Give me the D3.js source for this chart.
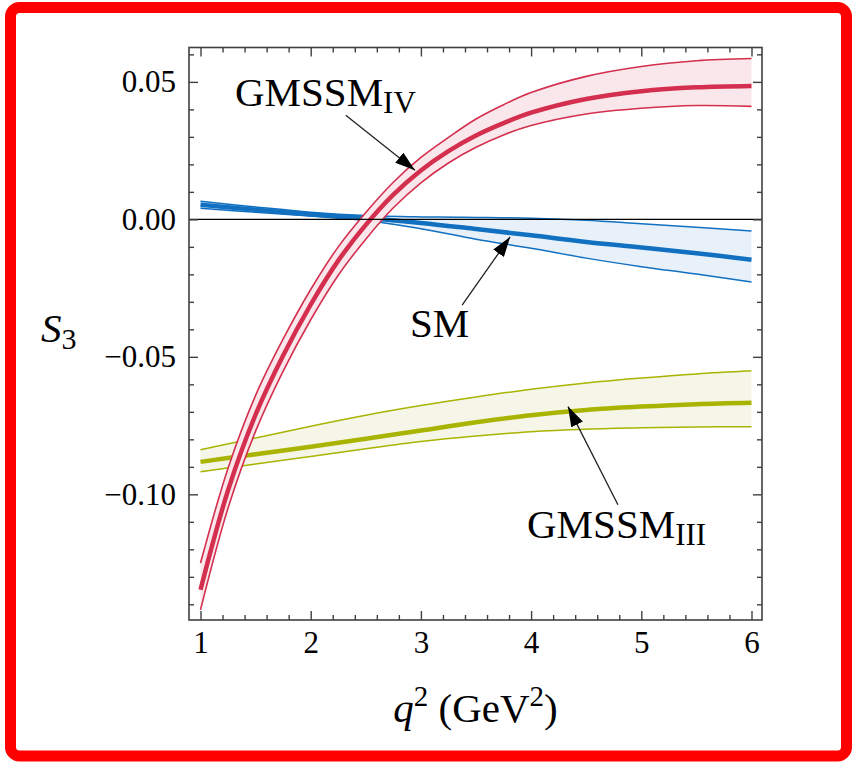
<!DOCTYPE html>
<html><head><meta charset="utf-8">
<script src="https://cdn.jsdelivr.net/npm/d3@7"></script>
<style>body{margin:0;background:#fff}svg{display:block}text{font-family:"Liberation Serif","Times New Roman",serif}</style>
</head><body>
<svg id="c" width="856" height="764"></svg>
<script>
// ---- data ----
const q2Red = [1, 1.25, 1.5, 1.75, 2, 2.25, 2.5, 2.75, 3, 3.25, 3.5, 3.75, 4, 4.5, 5, 5.5, 6];
const ivCentral = [-0.1347, -0.0985, -0.0710, -0.0495, -0.0310, -0.0150, -0.0020, 0.0090, 0.0178, 0.0248, 0.0305, 0.0350, 0.0388, 0.0438, 0.0466, 0.0480, 0.0485];
const ivUpper   = [-0.1250, -0.0905, -0.0640, -0.0435, -0.0255, -0.0100, 0.0025, 0.0135, 0.0225, 0.0298, 0.0365, 0.0417, 0.0461, 0.0520, 0.0556, 0.0577, 0.0585];
const ivLower   = [-0.1420, -0.1050, -0.0770, -0.0552, -0.0365, -0.0203, -0.0072, 0.0042, 0.0133, 0.0205, 0.0262, 0.0307, 0.0341, 0.0383, 0.0404, 0.0414, 0.0411];

const q2 = [1, 1.5, 2, 2.5, 3, 3.5, 4, 4.5, 5, 5.5, 6];
const smCentral = [0.0053, 0.0035, 0.0018, 0.0005, -0.0013, -0.0035, -0.0058, -0.0082, -0.0102, -0.0123, -0.0147];
const smUpper   = [0.0066, 0.0045, 0.0026, 0.0014, 0.0009, 0.0007, 0.0004, -0.0003, -0.0016, -0.0029, -0.0042];
const smLower   = [0.0040, 0.0026, 0.0012, -0.0004, -0.0034, -0.0072, -0.0105, -0.0141, -0.0172, -0.0199, -0.0228];

const iiiCentral = [-0.0882, -0.0854, -0.0827, -0.0798, -0.0768, -0.0738, -0.0712, -0.0693, -0.0681, -0.0672, -0.0667];
const iiiUpper   = [-0.0838, -0.0795, -0.0752, -0.0712, -0.0677, -0.0646, -0.0618, -0.0595, -0.0577, -0.0562, -0.0551];
const iiiLower   = [-0.0918, -0.0890, -0.0862, -0.0834, -0.0808, -0.0788, -0.0772, -0.0763, -0.0758, -0.0755, -0.0754];

const xMajor = [1, 2, 3, 4, 5, 6];
const xMinor = [1.2,1.4,1.6,1.8,2.2,2.4,2.6,2.8,3.2,3.4,3.6,3.8,4.2,4.4,4.6,4.8,5.2,5.4,5.6,5.8];
const yMajor = [-0.10, -0.05, 0.00, 0.05];
const yMajorLabels = ["\u22120.10", "\u22120.05", "0.00", "0.05"];
const yMinor = [-0.14,-0.13,-0.12,-0.11,-0.09,-0.08,-0.07,-0.06,-0.04,-0.03,-0.02,-0.01,0.01,0.02,0.03,0.04,0.06];

// annotations: label anchor and arrow (from -> tip), in data units
const annLabels = [
  {main: "GMSSM", sub: "IV", x: 1.313, y: 0.0412},
  {main: "SM", sub: "", x: 2.901, y: -0.0428},
  {main: "GMSSM", sub: "III", x: 3.963, y: -0.1159}
];
const annArrows = [
  {x1: 2.318, y1: 0.0379, x2: 2.946, y2: 0.0179},
  {x1: 3.374, y1: -0.0312, x2: 3.809, y2: -0.0064},
  {x1: 4.788, y1: -0.1038, x2: 4.335, y2: -0.0681}
];

// ---- layout ----
const svg = d3.select("#c");
const L = 189, R = 762, T = 47.5, B = 620;
const x = d3.scaleLinear().domain([0.8956, 6.0953]).range([L, R]);
const y = d3.scaleLinear().domain([-0.1457, 0.0625]).range([B, T]);

svg.append("rect").attr("width", 856).attr("height", 764).attr("fill", "#fff");
svg.append("rect").attr("x", 10.5).attr("y", 7.5).attr("width", 836).attr("height", 748.5)
  .attr("rx", 9).attr("fill", "none").attr("stroke", "#ff0000").attr("stroke-width", 11);

svg.append("clipPath").attr("id", "clip").append("rect")
  .attr("x", L).attr("y", T).attr("width", R - L).attr("height", B - T);
const plot = svg.append("g").attr("clip-path", "url(#clip)");

const crv = d3.curveCatmullRom.alpha(0.5);
function band(xs, lo, hi, mid, col, fill, wMid, wEdge) {
  const area = d3.area().x((d, i) => x(xs[i])).y0((d, i) => y(lo[i])).y1((d, i) => y(hi[i])).curve(crv);
  const line = arr => d3.line().x((d, i) => x(xs[i])).y((d, i) => y(arr[i])).curve(crv)(arr);
  plot.append("path").attr("d", area(xs)).attr("fill", fill);
  plot.append("path").attr("d", line(hi)).attr("fill", "none").attr("stroke", col).attr("stroke-width", wEdge);
  plot.append("path").attr("d", line(lo)).attr("fill", "none").attr("stroke", col).attr("stroke-width", wEdge);
  plot.append("path").attr("d", line(mid)).attr("fill", "none").attr("stroke", col).attr("stroke-width", wMid);
}
band(q2, iiiLower, iiiUpper, iiiCentral, "#a9b400", "#f5f6e8", 4.5, 1.5);
band(q2, smLower, smUpper, smCentral, "#1170c0", "#e8f1fa", 4.5, 1.5);
band(q2Red, ivLower, ivUpper, ivCentral, "#d42f4e", "#f9e7eb", 4.5, 1.6);

plot.append("line").attr("x1", L).attr("x2", R).attr("y1", y(0)).attr("y2", y(0))
  .attr("stroke", "#000").attr("stroke-width", 1.3);

// ---- axes ----
const tickCol = "#404040";
function styleAxis(g) {
  g.select(".domain").remove();
  g.selectAll(".tick line").attr("stroke", tickCol).attr("stroke-width", 1.4);
  g.selectAll(".tick text").attr("fill", "#000").attr("font-family", "Liberation Serif").attr("font-size", 31);
}
svg.append("g").attr("transform", `translate(0,${B})`)
  .call(d3.axisBottom(x).tickValues(xMajor).tickSize(-9).tickPadding(11).tickFormat(d3.format("d"))).call(styleAxis);
svg.append("g").attr("transform", `translate(0,${B})`)
  .call(d3.axisBottom(x).tickValues(xMinor).tickSize(-5).tickFormat("")).call(styleAxis);
svg.append("g").attr("transform", `translate(0,${T})`)
  .call(d3.axisTop(x).tickValues(xMajor).tickSize(-9).tickFormat("")).call(styleAxis);
svg.append("g").attr("transform", `translate(0,${T})`)
  .call(d3.axisTop(x).tickValues(xMinor).tickSize(-5).tickFormat("")).call(styleAxis);
svg.append("g").attr("transform", `translate(${L},0)`)
  .call(d3.axisLeft(y).tickValues(yMajor).tickSize(-9).tickPadding(13).tickFormat((d, i) => yMajorLabels[i])).call(styleAxis);
svg.append("g").attr("transform", `translate(${L},0)`)
  .call(d3.axisLeft(y).tickValues(yMinor).tickSize(-5).tickFormat("")).call(styleAxis);
svg.append("g").attr("transform", `translate(${R},0)`)
  .call(d3.axisRight(y).tickValues(yMajor).tickSize(-9).tickFormat("")).call(styleAxis);
svg.append("g").attr("transform", `translate(${R},0)`)
  .call(d3.axisRight(y).tickValues(yMinor).tickSize(-5).tickFormat("")).call(styleAxis);

svg.append("rect").attr("x", L).attr("y", T).attr("width", R - L).attr("height", B - T)
  .attr("fill", "none").attr("stroke", tickCol).attr("stroke-width", 1.6);

// axis titles
const xt = svg.append("text").attr("x", (L + R) / 2).attr("y", 722).attr("text-anchor", "middle")
  .attr("font-size", 41).attr("fill", "#000");
xt.append("tspan").attr("font-style", "italic").text("q");
xt.append("tspan").attr("dy", -16).attr("font-size", 29).text("2");
xt.append("tspan").attr("dy", 16).text(" (GeV");
xt.append("tspan").attr("dy", -16).attr("font-size", 29).text("2");
xt.append("tspan").attr("dy", 16).text(")");

const yt = svg.append("text").attr("x", 41).attr("y", 342).attr("font-size", 41).attr("fill", "#000");
yt.append("tspan").attr("font-style", "italic").text("S");
yt.append("tspan").attr("dy", 7).attr("font-size", 30).text("3");

// annotations
svg.append("defs").append("marker").attr("id", "ah").attr("markerUnits", "userSpaceOnUse")
  .attr("markerWidth", 22).attr("markerHeight", 14).attr("refX", 20).attr("refY", 6.5).attr("orient", "auto")
  .append("path").attr("d", "M0,0 L20,6.5 L0,13 Z").attr("fill", "#000");
annArrows.forEach(a => {
  svg.append("line").attr("x1", x(a.x1)).attr("y1", y(a.y1)).attr("x2", x(a.x2)).attr("y2", y(a.y2))
    .attr("stroke", "#222").attr("stroke-width", 1.3).attr("marker-end", "url(#ah)");
});
annLabels.forEach(a => {
  const t = svg.append("text").attr("x", x(a.x)).attr("y", y(a.y)).attr("font-size", 41).attr("fill", "#000");
  t.append("tspan").text(a.main);
  if (a.sub) t.append("tspan").attr("dy", 7).attr("font-size", 31).text(a.sub);
});
</script>
</body></html>
